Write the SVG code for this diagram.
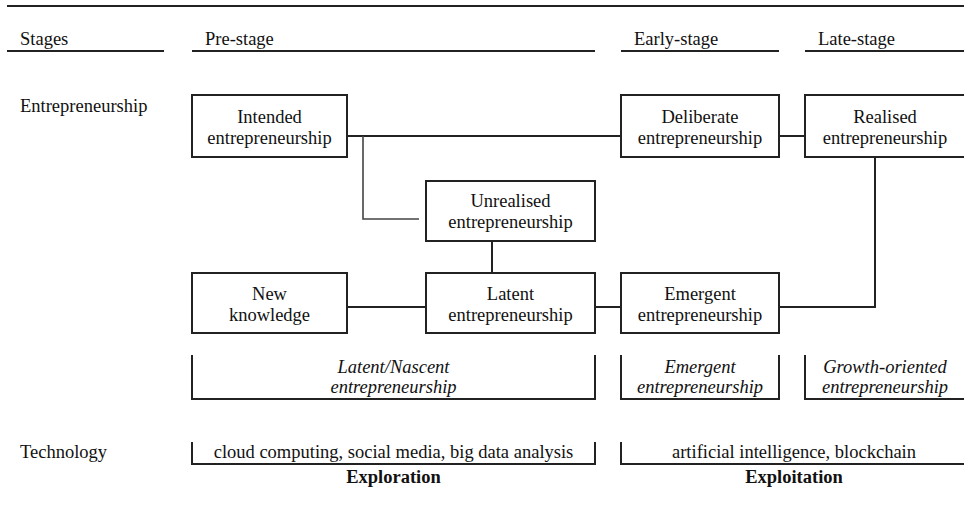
<svg xmlns="http://www.w3.org/2000/svg" width="964" height="527" viewBox="0 0 964 527">
<style>
text{font-family:'Liberation Serif','DejaVu Serif',serif;font-size:18.5px;fill:#111}
.c{text-anchor:middle}
.i{font-style:italic}
.b{font-weight:bold}
.box{fill:#fff;stroke:#222;stroke-width:2}
.ln{fill:none;stroke:#222;stroke-width:2}
.lg{fill:none;stroke:#444;stroke-width:1.6}
</style>
<rect width="964" height="527" fill="#fff"/>
<g id="header">
<line class="ln" x1="7" y1="6" x2="964" y2="6"/>
<text x="20" y="45">Stages</text>
<line class="ln" x1="7" y1="51" x2="164" y2="51"/>
<text x="205" y="45">Pre-stage</text>
<line class="ln" x1="192" y1="51" x2="595" y2="51"/>
<text x="634" y="45">Early-stage</text>
<line class="ln" x1="621" y1="51" x2="779" y2="51"/>
<text x="818" y="45">Late-stage</text>
<line class="ln" x1="805" y1="51" x2="964" y2="51"/>
<text x="20" y="112">Entrepreneurship</text>
<text x="20" y="458">Technology</text>
</g>
<g id="connectors">
<line class="ln" x1="347" y1="136" x2="621" y2="136"/>
<line class="ln" x1="779" y1="136" x2="805" y2="136"/>
<polyline class="lg" points="363,136 363,219 419,219"/>
<line class="ln" x1="492" y1="241" x2="492" y2="273"/>
<line class="ln" x1="347" y1="307" x2="426" y2="307"/>
<line class="ln" x1="595" y1="307" x2="621" y2="307"/>
<polyline class="ln" points="779,307 875,307 875,157"/>
</g>
<g id="intended">
<rect class="box" x="192" y="95" width="155" height="62"/>
<text class="c" x="269.5" y="123">Intended</text>
<text class="c" x="269.5" y="144">entrepreneurship</text>
</g>
<g id="deliberate">
<rect class="box" x="621" y="95" width="158" height="62"/>
<text class="c" x="700" y="123">Deliberate</text>
<text class="c" x="700" y="144">entrepreneurship</text>
</g>
<g id="realised">
<rect class="box" x="805" y="95" width="162" height="62"/>
<text class="c" x="885" y="123">Realised</text>
<text class="c" x="885" y="144">entrepreneurship</text>
</g>
<g id="unrealised">
<rect class="box" x="426" y="181" width="169" height="60"/>
<text class="c" x="510.5" y="207">Unrealised</text>
<text class="c" x="510.5" y="228">entrepreneurship</text>
</g>
<g id="new-knowledge">
<rect class="box" x="192" y="273" width="155" height="60"/>
<text class="c" x="269.5" y="300">New</text>
<text class="c" x="269.5" y="321">knowledge</text>
</g>
<g id="latent">
<rect class="box" x="426" y="273" width="169" height="60"/>
<text class="c" x="510.5" y="300">Latent</text>
<text class="c" x="510.5" y="321">entrepreneurship</text>
</g>
<g id="emergent">
<rect class="box" x="621" y="273" width="158" height="60"/>
<text class="c" x="700" y="300">Emergent</text>
<text class="c" x="700" y="321">entrepreneurship</text>
</g>
<g id="phase-brackets">
<polyline class="ln" points="192,355 192,399 595,399 595,355"/>
<text class="c i" x="393.5" y="373">Latent/Nascent</text>
<text class="c i" x="393.5" y="393">entrepreneurship</text>
<polyline class="ln" points="621,355 621,399 779,399 779,355"/>
<text class="c i" x="700" y="373">Emergent</text>
<text class="c i" x="700" y="393">entrepreneurship</text>
<polyline class="ln" points="805,355 805,399 966,399"/>
<text class="c i" x="885" y="373">Growth-oriented</text>
<text class="c i" x="885" y="393">entrepreneurship</text>
</g>
<g id="technology-brackets">
<polyline class="ln" points="192,442 192,464 595,464 595,442"/>
<text class="c" x="393.5" y="458">cloud computing, social media, big data analysis</text>
<text class="c b" x="393.5" y="483">Exploration</text>
<polyline class="ln" points="621,442 621,464 966,464"/>
<text class="c" x="794" y="458">artificial intelligence, blockchain</text>
<text class="c b" x="794" y="483">Exploitation</text>
</g>
</svg>
